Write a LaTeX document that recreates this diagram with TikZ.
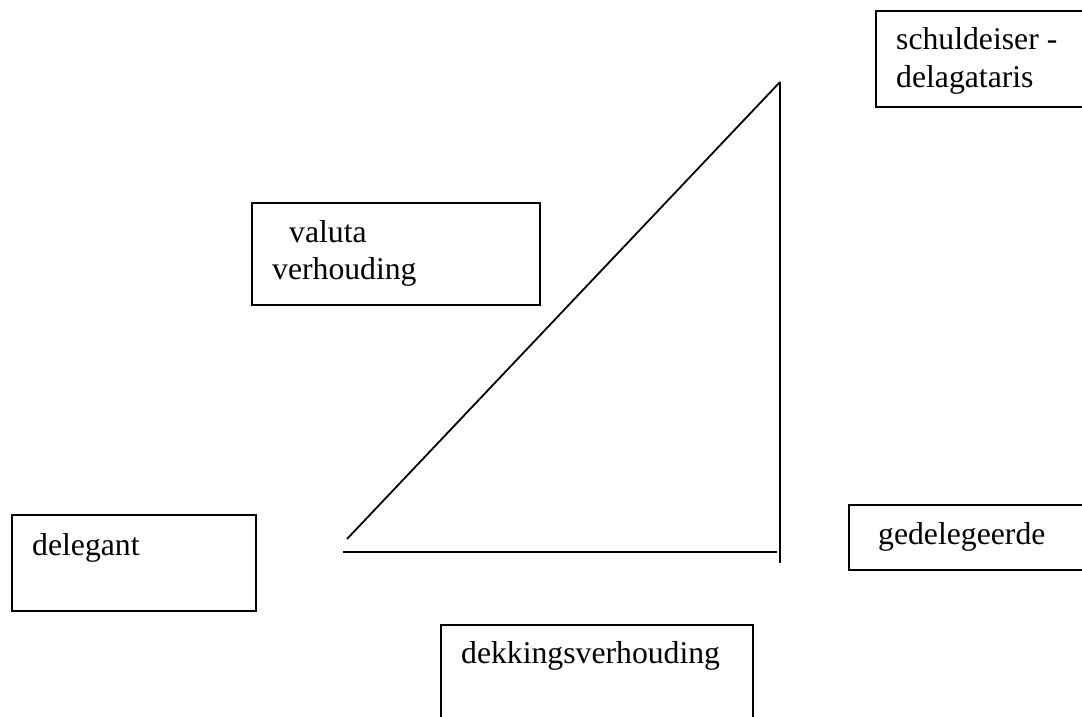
\documentclass[tikz,border=0pt]{standalone}
\usepackage{fontspec}
\setmainfont{Liberation Serif}
\begin{document}
\begin{tikzpicture}[x=1pt,y=-1pt,
  frame/.style={draw=black,line width=1.8pt,rectangle,inner sep=0pt,anchor=north west},
  lbl/.style={anchor=base west,inner sep=0pt,font=\fontsize{31.7}{37}\selectfont},
  edge/.style={draw=black,line width=1.8pt}]
\useasboundingbox (0,0) rectangle (1082,717);
\clip (0,0) rectangle (1082,717);
% boxes; the two on the right and the one below run past the page edge
\node[frame,minimum width=250pt,minimum height=96pt] (creditor) at (875,10) {};
\node[frame,minimum width=288pt,minimum height=102pt] (valuta) at (251,202) {};
\node[frame,minimum width=244pt,minimum height=96pt] (delegant) at (11,514) {};
\node[frame,minimum width=280pt,minimum height=65pt] (debtor) at (848,504) {};
\node[frame,minimum width=312pt,minimum height=120pt] (cover) at (440,624) {};
% labels
\node[lbl] (t1) at (896,50) {schuldeiser -};
\node[lbl] (t2) at (896,88) {delagataris};
\node[lbl] (t3) at (289,242) {valuta};
\node[lbl] (t4) at (272,279) {verhouding};
\node[lbl] (t5) at (32,555) {delegant};
\node[lbl] (t6) at (878,544) {gedelegeerde};
\node[lbl] (t7) at (461,663) {dekkingsverhouding};
% triangle of relations
\coordinate (apex) at (780,82);
\coordinate (diagend) at (347,539);
\coordinate (vbottom) at (780,563);
\coordinate (hleft) at (343,552);
\coordinate (hright) at (777,552);
\draw[edge] (diagend) -- (apex);
\draw[edge] (apex) -- (vbottom);
\draw[edge] (hleft) -- (hright);
\end{tikzpicture}
\end{document}
